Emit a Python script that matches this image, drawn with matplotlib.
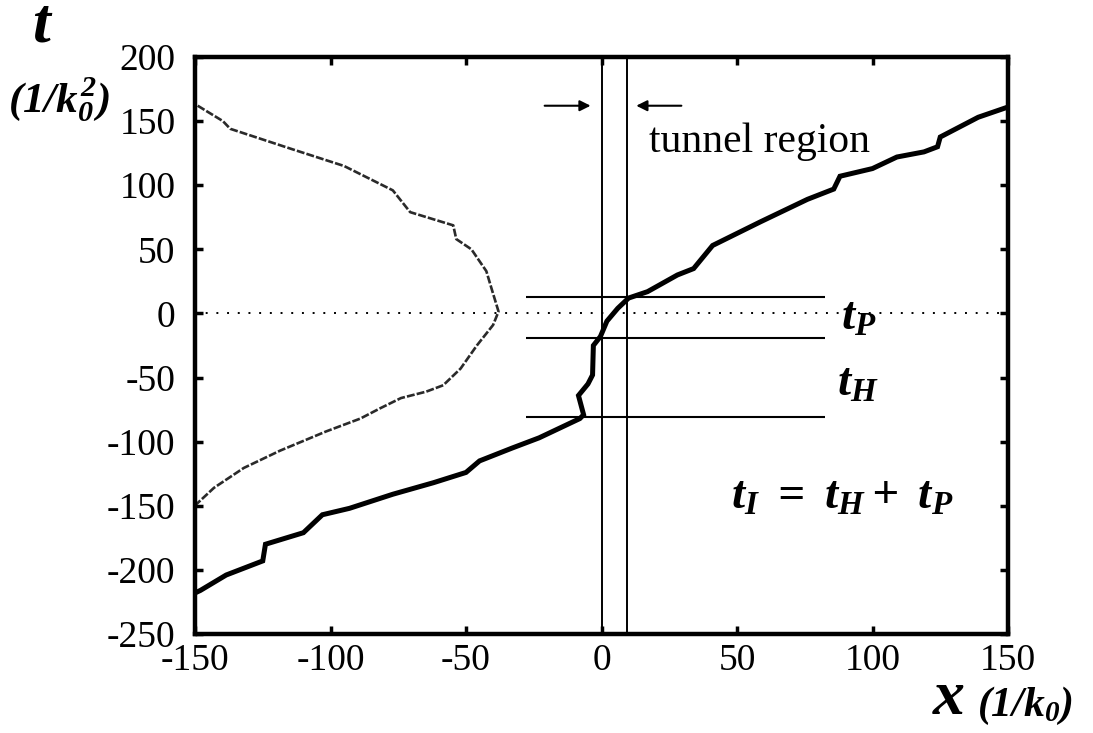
import matplotlib
matplotlib.use("Agg")
import matplotlib.pyplot as plt

# ---- data ----
trans_x = [-150, -148, -138.5, -125, -124, -110, -103, -93, -77, -62, -50, -45, -33, -23,
           -8, -6.6, -8.5, -5, -3.3, -3, -0.4, 2, 6, 10, 17, 28, 34, 41, 58.7, 76, 85.7,
           88, 100, 109, 119, 124, 125, 139, 150]
trans_t = [-218, -216, -204, -193, -180, -171, -157, -152, -141, -132, -124, -115, -105, -97,
           -82, -79, -64, -55, -48, -25, -18, -6, 4, 12, 17, 30, 35, 53, 71.5, 89, 97,
           107, 113, 122, 126, 130, 137.6, 153, 161]

refl_x = [-149, -139.7, -137, -114, -95, -77, -70.6, -54.7, -53.6, -48, -42.5, -40.6, -38,
          -40, -46, -52, -58.4, -64.7, -74, -81.7, -89, -101.6, -118.6, -132, -143, -149.6]
refl_t = [162, 150, 144, 128, 115, 96, 79, 68.7, 58, 50, 33, 19.6, 1.5,
          -9, -25, -43, -56, -61, -66, -74, -82, -92, -107, -120.5, -136, -149]

barrier_x = [0, 9.4]
time_levels = [12.5, -19, -81]
hline_span = [-28, 82.5]

xticks = [-150, -100, -50, 0, 50, 100, 150]
yticks = [-250, -200, -150, -100, -50, 0, 50, 100, 150, 200]

plt.rcParams['font.family'] = ['Liberation Serif', 'DejaVu Serif']
plt.rcParams['axes.unicode_minus'] = False
plt.rcParams['mathtext.fontset'] = 'custom'
plt.rcParams['mathtext.rm'] = 'Liberation Serif:bold:italic'
plt.rcParams['mathtext.it'] = 'Liberation Serif:bold:italic'
plt.rcParams['mathtext.bf'] = 'Liberation Serif:bold:italic'

W, H = 1093, 733
fig = plt.figure(figsize=(W / 100, H / 100), dpi=100)
ax = fig.add_axes([195 / W, 1 - 634 / H, (1008 - 195) / W, (634 - 57) / H])

ax.plot(trans_x, trans_t, color='black', lw=3.6, solid_joinstyle='miter')
ax.plot(refl_x, refl_t, color='#2a2a2a', lw=1.9, dashes=(3, 0.8))

for bx in barrier_x:
    ax.axvline(bx, color='black', lw=1.4)
for lv in time_levels:
    ax.hlines(lv, hline_span[0], hline_span[1], color='black', lw=1.5)
ax.axhline(0, color='black', lw=1.4, linestyle=(0, (1, 4.5)))

ax.annotate('', xy=(-3, 162), xytext=(-22, 162),
            arrowprops=dict(arrowstyle='-|>', color='black', lw=1.5, mutation_scale=16))
ax.annotate('', xy=(11.8, 162), xytext=(30.5, 162),
            arrowprops=dict(arrowstyle='-|>', color='black', lw=1.5, mutation_scale=16))
ax.text(17.5, 126, 'tunnel region', fontsize=30, ha='left', va='baseline')

ax.text(88.5, -13, r'$t_P$', fontsize=34, ha='left', va='baseline')
ax.text(87, -64, r'$t_H$', fontsize=34, ha='left', va='baseline')
ax.text(130, -152, r'$t_I\ =\ t_H+\ t_P$', fontsize=34, ha='right', va='baseline')

ax.set_xlim(-150, 150)
ax.set_ylim(-250, 200)
ax.set_xticks(xticks)
ax.set_yticks(yticks)
ax.set_xticklabels([str(v) for v in xticks])
ax.set_yticklabels([str(v) for v in yticks])
ax.tick_params(direction='in', length=6, width=2.5, labelsize=27,
               top=True, right=True, pad=7)
ax.tick_params(axis='y', pad=14)
for s in ax.spines.values():
    s.set_linewidth(3.2)

fig.text(32 / W, 1 - 42 / H, r'$t$', fontsize=46, ha='left', va='baseline')
fig.text(8 / W, 1 - 113 / H, r'$(1/k_0^2)$', fontsize=31, ha='left', va='baseline')
fig.text(932 / W, 1 - 714 / H, r'$x$', fontsize=46, ha='left', va='baseline')
fig.text(977 / W, 1 - 716 / H, r'$(1/k_0)$', fontsize=30, ha='left', va='baseline')

fig.savefig('out.png', dpi=100)
